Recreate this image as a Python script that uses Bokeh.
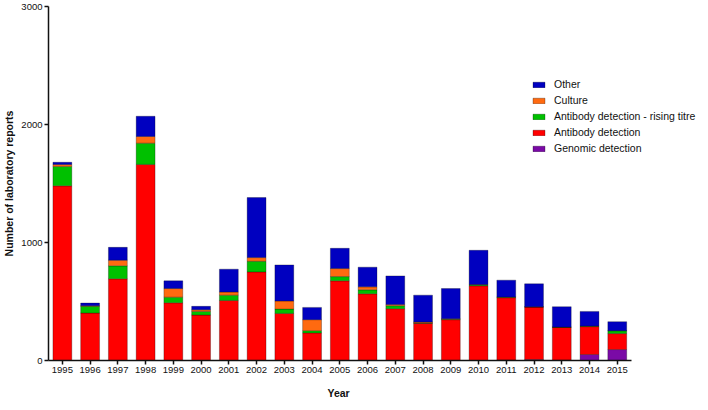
from bokeh.plotting import figure
from bokeh.models import ColumnDataSource, Range1d, FixedTicker, Legend, LegendItem, Title
from bokeh.embed import file_html
from bokeh.resources import INLINE

years = list(range(1995, 2016))
genomic = [0, 0, 0, 0, 0, 0, 0, 0, 0, 0, 0, 0, 0, 0, 0, 0, 4, 8, 3, 51, 93]
antibody = [1480, 402, 692, 1662, 489, 385, 509, 751, 399, 234, 675, 565, 439, 315, 346, 633, 528, 445, 278, 236, 135]
rising = [165, 57, 110, 180, 48, 31, 45, 90, 37, 19, 36, 34, 25, 5, 4, 8, 4, 2, 2, 3, 25]
culture = [17, 6, 48, 57, 73, 14, 26, 31, 68, 93, 68, 25, 10, 6, 4, 3, 2, 0, 0, 2, 0]
other = [18, 22, 109, 171, 65, 29, 194, 509, 306, 104, 172, 167, 243, 228, 256, 290, 143, 195, 173, 124, 76]

series = ["genomic", "antibody", "rising", "culture", "other"]
labels = ["Genomic detection", "Antibody detection", "Antibody detection - rising titre", "Culture", "Other"]
colors = ["#7a0aa6", "#ff0000", "#00c000", "#ff6a10", "#0000c0"]
y_ticks = [0, 1000, 2000, 3000]

source = ColumnDataSource(dict(year=years, genomic=genomic, antibody=antibody,
                               rising=rising, culture=culture, other=other))

FONT = "Liberation Sans"

x_start = years[0] - 0.5
x_end = years[-1] + 0.5

p = figure(width=700, height=408, x_range=Range1d(x_start, x_end + 2.5),
           y_range=Range1d(0, 3000), output_backend="svg", toolbar_location=None,
           min_border_top=6, min_border_right=0, min_border_left=10, min_border_bottom=0)

renderers = p.vbar_stack(series, x="year", width=0.68, source=source, color=colors,
                         line_color="#000000", line_alpha=0.35, line_width=0.8)

items = [LegendItem(label=labels[i], renderers=[renderers[i]]) for i in reversed(range(len(series)))]
legend = Legend(items=items, location=(483, 206), padding=0, margin=0,
                border_line_alpha=0, background_fill_alpha=0,
                glyph_width=15, glyph_height=7, label_height=12, spacing=4,
                label_standoff=8, label_text_font=FONT, label_text_font_size="10.5px",
                label_text_color="#111111")
p.add_layout(legend, "center")

p.xgrid.grid_line_color = None
p.ygrid.grid_line_color = None
p.outline_line_color = None

p.xaxis.ticker = FixedTicker(ticks=years)
p.xaxis.bounds = (x_start, x_end)
p.xaxis.minor_tick_line_color = None
p.yaxis.ticker = FixedTicker(ticks=y_ticks)
p.yaxis.minor_tick_line_color = None
for ax in (p.xaxis[0], p.yaxis[0]):
    ax.axis_line_width = 1.5
    ax.axis_line_color = "#111111"
    ax.major_tick_line_width = 1.5
    ax.major_tick_line_color = "#111111"
    ax.major_tick_in = 0
    ax.major_tick_out = 4
    ax.major_label_text_font = FONT
    ax.major_label_text_font_size = "9.5px"
    ax.major_label_text_color = "#111111"
    ax.axis_label_text_font = FONT
    ax.axis_label_text_font_size = "10.5px"
    ax.axis_label_text_font_style = "bold"
    ax.axis_label_text_color = "#111111"
    ax.major_label_standoff = 2

x_title = Title(text="Year", align="left", offset=279, standoff=19,
                text_font=FONT, text_font_size="10.5px", text_font_style="bold",
                text_color="#111111")
p.add_layout(x_title, "below")

p.yaxis[0].axis_label = "Number of laboratory reports"
p.yaxis[0].axis_label_standoff = 3

open("out.html", "w").write(file_html(p, INLINE))
